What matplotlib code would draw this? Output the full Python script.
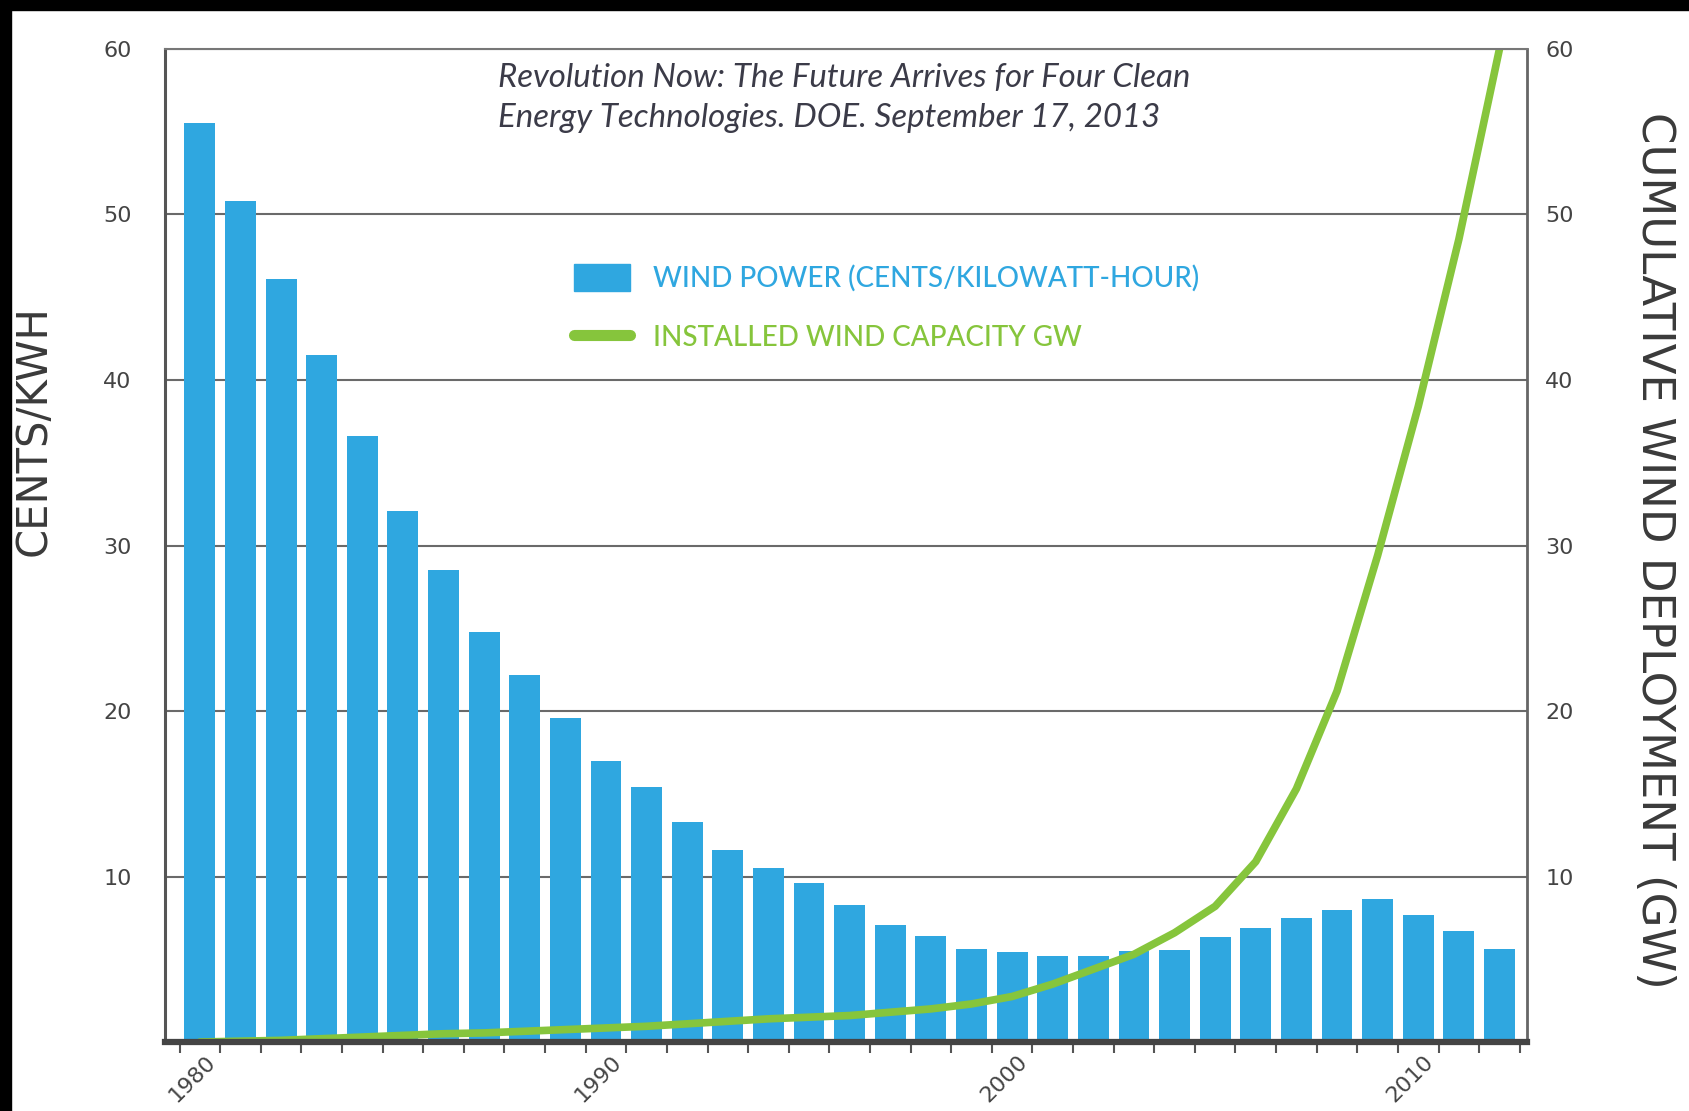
import numpy as np
import matplotlib
matplotlib.use("Agg")
from matplotlib import pyplot as plt
from matplotlib.patches import Patch, Rectangle
from matplotlib.lines import Line2D
from matplotlib.transforms import ScaledTranslation

# wind power cost (cents/kWh) and cumulative installed capacity (GW), 1980-2012
years = list(range(1980, 2013))
cents = [55.5, 50.8, 46.1, 41.5, 36.6, 32.1, 28.5, 24.8, 22.2, 19.6,
         17.0, 15.4, 13.3, 11.6, 10.5, 9.6, 8.3, 7.1, 6.4, 5.6,
         5.45, 5.2, 5.2, 5.5, 5.55, 6.35, 6.9, 7.5, 7.95, 8.65,
         7.65, 6.7, 5.6]
capacity = [0.0, 0.05, 0.1, 0.2, 0.3, 0.4, 0.5, 0.55, 0.65, 0.75,
            0.85, 0.95, 1.1, 1.25, 1.4, 1.5, 1.6, 1.8, 2.0, 2.3,
            2.75, 3.5, 4.4, 5.3, 6.6, 8.2, 10.9, 15.3, 21.2, 29.4,
            38.4, 48.5, 60.0]
year_labels = [1980, 1990, 2000, 2010]
y_ticks = [10, 20, 30, 40, 50, 60]

BLUE = '#2fa7e0'
GREEN = '#86c53c'
SANS = ['Lato', 'DejaVu Sans']

fig = plt.figure(figsize=(16.9, 11.11), dpi=100)
fig.patch.set_facecolor('white')
ax = fig.add_axes([0.0976, 0.0621, 0.8060, 0.8938])

ax.bar(years, cents, width=0.76, color=BLUE, zorder=2)
ax.set_xlim(1979.14, 2012.68)
ax.set_ylim(0, 60)
ax.set_axisbelow(True)
ax.grid(axis='y', color='#6a6a6a', lw=1.5)

ax.set_yticks(y_ticks)
ax.set_yticklabels([str(t) for t in y_ticks])
ax.tick_params(axis='y', length=0, pad=24, labelsize=16, labelcolor='#444444')

# ticks sit between the bars, year labels go on minor ticks
ax.set_xticks(np.arange(1979.5, 2013, 1.0))
ax.set_xticklabels([])
ax.tick_params(axis='x', which='major', length=8, width=1.5, color='#555555')
ax.set_xticks(year_labels, minor=True)
ax.set_xticklabels([str(y) for y in year_labels], minor=True, rotation=45,
                   ha='right', va='center', rotation_mode='anchor')
ax.tick_params(axis='x', which='minor', length=0, pad=12, labelsize=16,
               labelcolor='#444444')
shift = ScaledTranslation(12 / 100, 0, fig.dpi_scale_trans)
for lbl in ax.get_xticklabels(minor=True):
    lbl.set_transform(lbl.get_transform() + shift)

for s in ax.spines.values():
    s.set_visible(False)

ax2 = ax.twinx()
ax2.plot(years, capacity, color=GREEN, lw=5.5, solid_capstyle='round',
         solid_joinstyle='round')
ax2.set_ylim(0, 60)
ax2.set_yticks(y_ticks)
ax2.set_yticklabels([str(t) for t in y_ticks])
ax2.tick_params(axis='y', length=0, pad=13, labelsize=16, labelcolor='#444444')

ax2.spines['left'].set_color('#555555')
ax2.spines['left'].set_linewidth(2.2)
ax2.spines['bottom'].set_color('#444444')
ax2.spines['bottom'].set_linewidth(4.5)
ax2.spines['top'].set_color('#777777')
ax2.spines['top'].set_linewidth(1.5)
ax2.spines['right'].set_color('#666666')
ax2.spines['right'].set_linewidth(2.0)

handles = [Patch(color=BLUE),
           Line2D([], [], color=GREEN, lw=8, solid_capstyle='round')]
leg = ax2.legend(handles, ['WIND POWER (CENTS/KILOWATT-HOUR)',
                           'INSTALLED WIND CAPACITY GW'],
                 loc='upper left', bbox_to_anchor=(574 / 1690, 1 - 264 / 1111),
                 bbox_transform=fig.transFigure, frameon=False,
                 borderpad=0, borderaxespad=0, handlelength=2.0,
                 handleheight=1.1, handletextpad=0.86, labelspacing=1.15,
                 labelcolor=[BLUE, GREEN],
                 prop={'family': SANS, 'size': 20, 'weight': 'medium'})

fig.text(498 / 1690, 1 - 98 / 1111,
         'Revolution Now: The Future Arrives for Four Clean\n'
         'Energy Technologies. DOE. September 17, 2013',
         family=SANS, style='italic', size=23.8, color='#3b3b48',
         ha='left', va='center', linespacing=1.38)

fig.text(34 / 1690, 1 - 431 / 1111, 'CENTS/KWH', rotation=90,
         ha='center', va='center', size=30, color='#3a3a3a')
fig.text(1655 / 1690, 1 - 550 / 1111, 'CUMULATIVE WIND DEPLOYMENT (GW)',
         rotation=-90, ha='center', va='center', size=32.5, color='#3a3a3a')

# black strips along the top and left edges
fig.patches.append(Rectangle((0, 1 - 10 / 1111), 1, 10 / 1111,
                             transform=fig.transFigure, color='black'))
fig.patches.append(Rectangle((0, 0), 11 / 1690, 1,
                             transform=fig.transFigure, color='black'))

fig.savefig('out.png', dpi=100)
